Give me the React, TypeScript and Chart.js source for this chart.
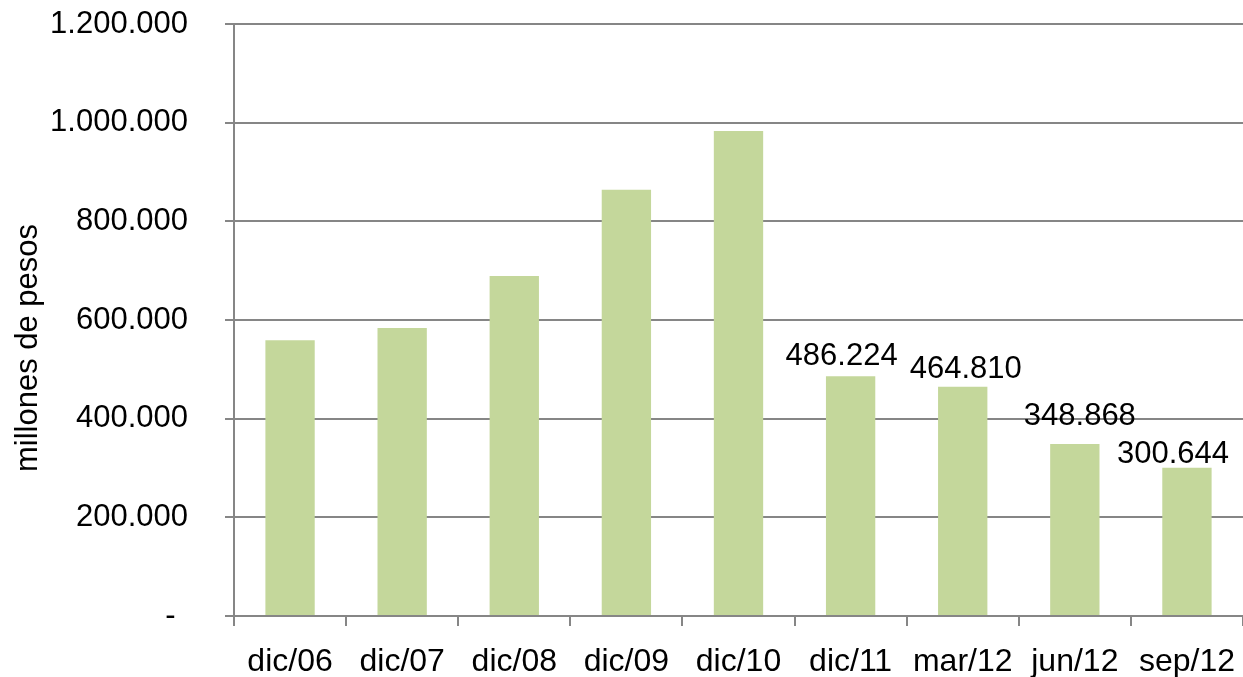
import React, { useEffect, useRef } from "react";
import { Chart, registerables } from "chart.js";

Chart.register(...registerables);

const categories = ["dic/06", "dic/07", "dic/08", "dic/09", "dic/10", "dic/11", "mar/12", "jun/12", "sep/12"];
const values = [559000, 584000, 689000, 864000, 983000, 486224, 464810, 348868, 300644];
const showLabel = [false, false, false, false, false, true, true, true, true];
const yTicks = [0, 200000, 400000, 600000, 800000, 1000000, 1200000];
const yTitle = "millones de pesos";

// label placement tweaks (style only)
const labelDx = [0, 0, 0, 0, 0, -9, 3, 5, -14];
const labelGap = [10, 10, 10, 10, 10, 11, 9, 19, 5];

const FONT = "'Liberation Sans', Arial, sans-serif";
const GRAY = "#868686";

function fmt(v: number): string {
  return String(Math.round(v)).replace(/\B(?=(\d{3})+(?!\d))/g, ".");
}

const labelPlugin = {
  id: "barLabels",
  afterDatasetsDraw(chart: any) {
    const ctx = chart.ctx;
    const meta = chart.getDatasetMeta(0);
    ctx.save();
    ctx.font = `31px ${FONT}`;
    ctx.fillStyle = "#000";
    ctx.textAlign = "center";
    ctx.textBaseline = "alphabetic";
    meta.data.forEach((bar: any, i: number) => {
      if (!showLabel[i]) return;
      ctx.fillText(fmt(values[i]), bar.x + labelDx[i], bar.y - labelGap[i]);
    });
    ctx.restore();
  },
};

const titlePlugin = {
  id: "yTitle",
  afterDraw(chart: any) {
    const ctx = chart.ctx;
    ctx.save();
    ctx.translate(28, 348);
    ctx.rotate(-Math.PI / 2);
    ctx.font = `31px ${FONT}`;
    ctx.fillStyle = "#000";
    ctx.textAlign = "center";
    ctx.textBaseline = "middle";
    ctx.fillText(yTitle, 0, 0);
    ctx.restore();
  },
};

export default function App() {
  const ref = useRef<HTMLCanvasElement>(null);
  useEffect(() => {
    document.body.style.margin = "0";
    const chart = new Chart(ref.current!, {
      type: "bar",
      data: {
        labels: categories,
        datasets: [
          {
            data: values,
            backgroundColor: "#C4D79B",
            borderWidth: 0,
            barPercentage: 0.44,
            categoryPercentage: 1,
          },
        ],
      },
      options: {
        animation: false,
        responsive: false,
        layout: { padding: { top: 24, right: 0, left: 0, bottom: 0 } },
        plugins: { legend: { display: false }, tooltip: { enabled: false } },
        scales: {
          x: {
            offset: true,
            grid: {
              display: true,
              offset: true,
              drawOnChartArea: false,
              drawTicks: true,
              tickLength: 10,
              color: GRAY,
              lineWidth: 2,
            },
            border: { display: true, color: GRAY, width: 2 },
            ticks: {
              color: "#000",
              font: { family: FONT, size: 32 },
              padding: 17,
              maxRotation: 0,
              autoSkip: false,
            },
            afterFit: (s: any) => {
              s.height = 61;
              s.paddingLeft = 0;
              s.paddingRight = 0;
            },
          },
          y: {
            min: 0,
            max: 1200000,
            afterBuildTicks: (s: any) => {
              s.ticks = yTicks.map((v) => ({ value: v }));
            },
            grid: { color: GRAY, lineWidth: 2, tickLength: 9, drawTicks: true },
            border: { display: true, color: GRAY, width: 2 },
            ticks: {
              color: "#000",
              font: { family: FONT, size: 31 },
              padding: 37,
              callback: (v: any) => (Number(v) === 0 ? "-\u2009\u2009" : fmt(Number(v))),
            },
            title: { display: false },
            afterFit: (s: any) => {
              s.width = 234;
              s.paddingTop = 0;
              s.paddingBottom = 0;
            },
          },
        },
      },
      plugins: [labelPlugin, titlePlugin],
    });
    return () => chart.destroy();
  }, []);
  return <canvas ref={ref} width={1243} height={677} />;
}
